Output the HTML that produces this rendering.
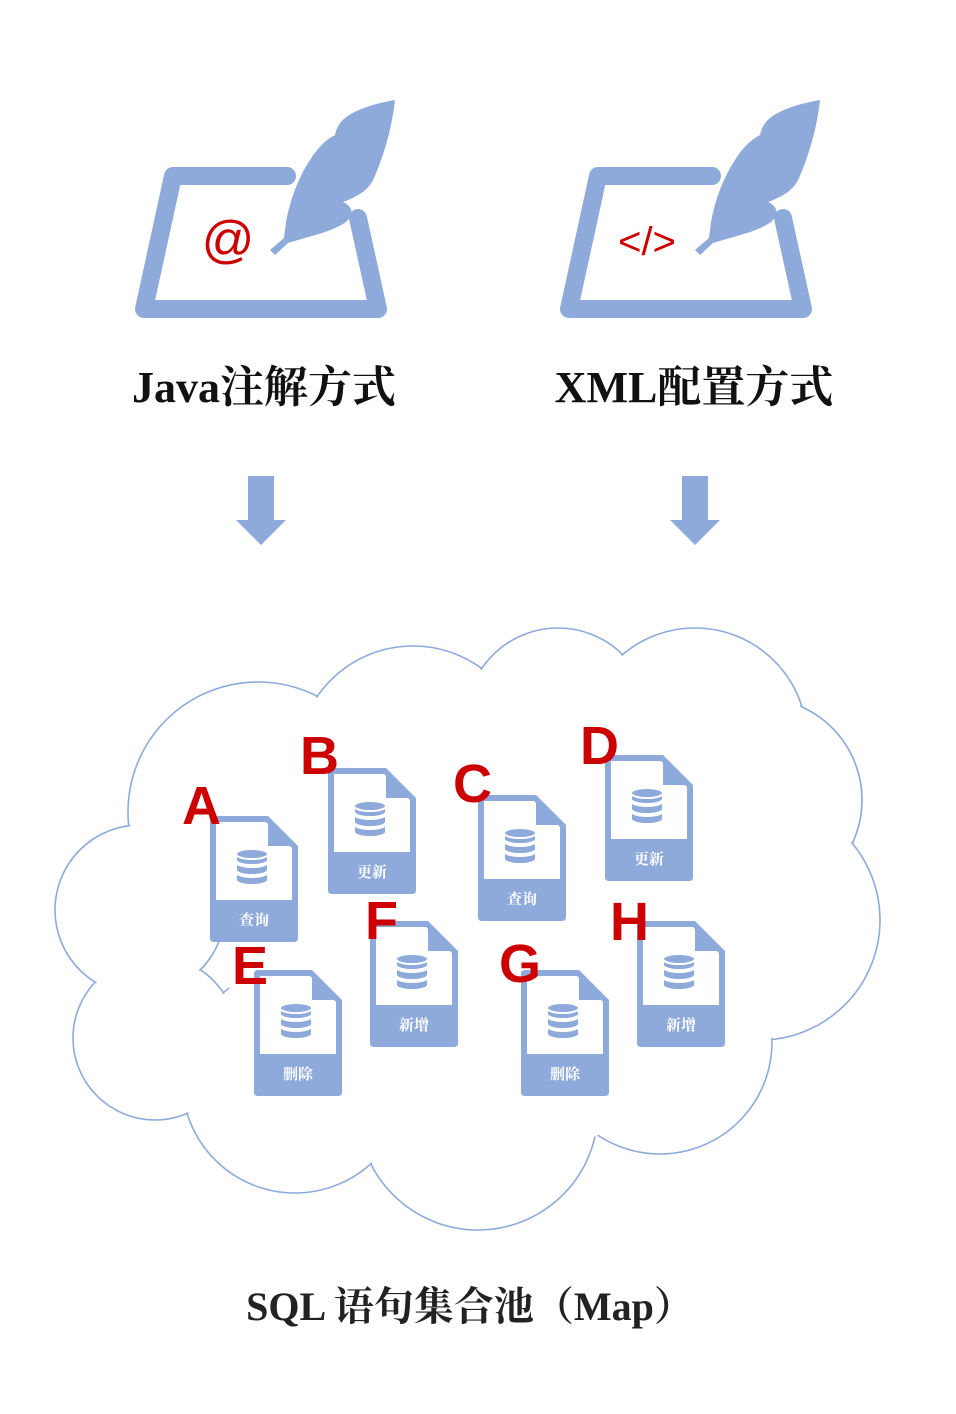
<!DOCTYPE html>
<html><head><meta charset="utf-8"><style>
body{margin:0;background:#fff;}
svg{display:block}
</style></head><body>
<svg width="956" height="1414" viewBox="0 0 956 1414" xmlns="http://www.w3.org/2000/svg">
<defs>
<g id="paper">
  <path d="M287,176 H173 L144,309 H378 L358,218" fill="none" stroke="#8eaadb" stroke-width="18" stroke-linejoin="round" stroke-linecap="round"/>
  <path d="M395,100 C372,104 355,110 345,118 C338,124 336,130 335,135 C325,140 316,150 310,160 C298,178 290,200 286,222 L284,238 L270,250 L275,255 L288,243 C310,236 332,232 346,222 C355,214 352,206 343,202 C360,196 370,188 374,178 C384,155 392,128 395,100 Z" fill="#8eaadb"/>
</g>
<g id="file">
  <path d="M4,0 H58 L88,30 V122 Q88,126 84,126 H4 Q0,126 0,122 V4 Q0,0 4,0 Z" fill="#8eaadb"/>
  <path d="M6,6 H56 L82,32 V84 H6 Z" fill="#fff"/>
  <path d="M58,2 V30 H86 Z" fill="#8eaadb"/>
  <g fill="#8eaadb" stroke="#fff" stroke-width="2">
    <path d="M26,64 v-8 a16,5 0 0 0 32,0 v8 a16,5 0 0 1 -32,0 Z"/>
    <path d="M26,54 v-8 a16,5 0 0 0 32,0 v8 a16,5 0 0 1 -32,0 Z"/>
    <path d="M26,44 v-6 a16,5 0 0 0 32,0 v6 a16,5 0 0 1 -32,0 Z"/>
    <ellipse cx="42" cy="38" rx="16" ry="5"/>
  </g>
</g>
</defs>
<use href="#paper"/>
<use href="#paper" x="425"/>
<text x="228" y="257" font-family="Liberation Sans, sans-serif" font-size="52" fill="#cc0000" text-anchor="middle">@</text>
<text x="647" y="255" font-family="Liberation Sans, sans-serif" font-size="40" fill="#cc0000" text-anchor="middle">&lt;/&gt;</text>
<text x="264" y="402" font-family="Liberation Serif, 'Noto Serif CJK SC', serif" font-weight="bold" font-size="44" text-anchor="middle" fill="#111">Java注解方式</text>
<text x="694" y="402" font-family="Liberation Serif, 'Noto Serif CJK SC', serif" font-weight="bold" font-size="44" text-anchor="middle" fill="#111">XML配置方式</text>
<path d="M248,476 H274 V520 H286 L261,545 L236,520 H248 Z" fill="#8eaadb"/>
<path d="M682,476 H708 V520 H720 L695,545 L670,520 H682 Z" fill="#8eaadb"/>
<g fill="#fff" stroke="#8eaadb" stroke-width="1.6">
 <circle cx="258" cy="812" r="130"/><circle cx="413" cy="762" r="116"/><circle cx="558" cy="720" r="92"/>
 <circle cx="695" cy="740" r="112"/><circle cx="760" cy="800" r="102"/><circle cx="760" cy="920" r="120"/>
 <circle cx="660" cy="1042" r="112"/><circle cx="478" cy="1110" r="120"/><circle cx="295" cy="1080" r="113"/>
 <circle cx="155" cy="1038" r="82"/><circle cx="140" cy="910" r="85"/>
</g>
<g fill="#fff">
 <circle cx="258" cy="812" r="128.5"/><circle cx="413" cy="762" r="114.5"/><circle cx="558" cy="720" r="90.5"/>
 <circle cx="695" cy="740" r="110.5"/><circle cx="760" cy="800" r="100.5"/><circle cx="760" cy="920" r="118.5"/>
 <circle cx="660" cy="1042" r="110.5"/><circle cx="478" cy="1110" r="118.5"/><circle cx="295" cy="1080" r="111.5"/>
 <circle cx="155" cy="1038" r="80.5"/><circle cx="140" cy="910" r="83.5"/>
 <circle cx="470" cy="920" r="250"/>
</g>
<use href="#file" x="210" y="816"/><use href="#file" x="328" y="768"/><use href="#file" x="478" y="795"/><use href="#file" x="605" y="755"/>
<use href="#file" x="254" y="970"/><use href="#file" x="370" y="921"/><use href="#file" x="521" y="970"/><use href="#file" x="637" y="921"/>
<g font-family="Liberation Serif, 'Noto Serif CJK SC', serif" font-weight="bold" font-size="15" fill="#fff" text-anchor="middle">
 <text x="254" y="925">查询</text><text x="372" y="877">更新</text><text x="522" y="904">查询</text><text x="649" y="864">更新</text>
 <text x="298" y="1079">删除</text><text x="414" y="1030">新增</text><text x="565" y="1079">删除</text><text x="681" y="1030">新增</text>
</g>
<g font-family="'Liberation Sans Narrow', 'Liberation Sans', sans-serif" font-weight="bold" font-size="54" fill="#cc0000">
 <text x="182" y="824">A</text><text x="300" y="774">B</text><text x="453" y="802">C</text><text x="580" y="764">D</text>
 <text x="232" y="984">E</text><text x="365" y="939">F</text><text x="499" y="982">G</text><text x="610" y="940">H</text>
</g>
<text x="470" y="1320" font-family="Liberation Serif, 'Noto Serif CJK SC', serif" font-weight="bold" font-size="40" text-anchor="middle" fill="#222">SQL 语句集合池（Map）</text>
</svg>
</body></html>
